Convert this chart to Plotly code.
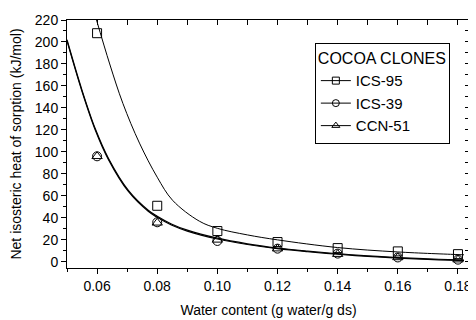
import plotly.graph_objects as go

# measured points
x_data = [0.06, 0.08, 0.10, 0.12, 0.14, 0.16, 0.18]
ics95 = [208, 51, 28, 18, 12.5, 9.5, 7]
ics39 = [96, 36, 19, 12, 7.5, 4, 2]
ccn51 = [96, 35.5, 20, 12, 7, 4, 2]

# fitted curves
fit95_x = [0.0596, 0.0642, 0.0686, 0.0741, 0.080, 0.0851, 0.094, 0.100, 0.110, 0.120, 0.140, 0.160, 0.180, 0.182]
fit95_y = [222, 180, 144, 108, 77, 56, 37, 30.5, 24.5, 20, 13, 9, 6.6, 6.4]
fit39_x = [0.050, 0.055, 0.0594, 0.0638, 0.0704, 0.077, 0.080, 0.0847, 0.090, 0.100, 0.110, 0.120, 0.130, 0.140, 0.150, 0.160, 0.170, 0.180, 0.182]
fit39_y = [201, 155, 120, 93, 64, 46, 40.5, 33.5, 28, 20.8, 15.8, 12, 9.2, 6.9, 5, 3.4, 2.2, 1.3, 1.1]
fit51_y = [202, 156, 121, 94, 65, 47, 41.5, 34.5, 28.8, 21.5, 16.4, 12.6, 9.8, 7.4, 5.5, 3.9, 2.7, 1.8, 1.6]

names = ["ICS-95", "ICS-39", "CCN-51"]
symbols = ["square-open", "circle-open", "triangle-up-open"]

FONT = "Arial, Liberation Sans, sans-serif"

fig = go.Figure()

# fitted curves
fig.add_trace(go.Scatter(x=fit95_x, y=fit95_y, mode="lines", line=dict(color="black", width=1, shape="spline"),
                         showlegend=False, hoverinfo="skip"))
fig.add_trace(go.Scatter(x=fit39_x, y=fit39_y, mode="lines", line=dict(color="black", width=1.2, shape="spline"),
                         showlegend=False, hoverinfo="skip"))
fig.add_trace(go.Scatter(x=fit39_x, y=fit51_y, mode="lines", line=dict(color="black", width=1.2, shape="spline"),
                         showlegend=False, hoverinfo="skip"))

# data markers
for ys, sym in zip([ics95, ics39, ccn51], symbols):
    fig.add_trace(go.Scatter(x=x_data, y=ys, mode="markers",
                             marker=dict(symbol=sym, size=9, color="black", line=dict(width=1, color="black")),
                             showlegend=False))

# legend entries
for nm, sym in zip(names, symbols):
    fig.add_trace(go.Scatter(x=[None], y=[None], mode="lines+markers", name=nm,
                             line=dict(color="black", width=1),
                             marker=dict(symbol=sym, size=7, color="black", line=dict(width=1, color="black"))))

# invisible trace for mirrored axes
fig.add_trace(go.Scatter(x=[0.1], y=[100], xaxis="x2", yaxis="y2", mode="markers",
                         marker=dict(opacity=0), showlegend=False, hoverinfo="skip"))

fig.update_layout(
    width=468, height=312,
    margin=dict(l=59, r=4, t=12, b=47),
    paper_bgcolor="white", plot_bgcolor="white",
    font=dict(family=FONT, size=14, color="black"),
    xaxis=dict(range=[0.05, 0.184], tick0=0.06, dtick=0.02, tickformat=".2f",
               ticks="outside", ticklen=5, tickcolor="black", showline=True, linecolor="black", linewidth=1,
               showgrid=False, zeroline=False,
               minor=dict(dtick=0.01, tick0=0.05, ticks="outside", ticklen=3, tickcolor="black"),
               title=dict(text="Water content (g water/g ds)", font=dict(size=14), standoff=12)),
    yaxis=dict(range=[-5.6, 220], tick0=0, dtick=20,
               ticks="outside", ticklen=5, tickcolor="black", showline=True, linecolor="black", linewidth=1,
               showgrid=False, zeroline=False,
               minor=dict(dtick=10, ticks="outside", ticklen=3, tickcolor="black"),
               title=dict(text="Net isosteric heat of sorption (kJ/mol)", font=dict(size=14), standoff=9)),
    xaxis2=dict(overlaying="x", side="top", matches="x", ticks="inside", dtick=0.01, tick0=0.05, ticklen=5,
                tickcolor="black", showticklabels=False, showline=True, linecolor="black", linewidth=1,
                showgrid=False, zeroline=False),
    yaxis2=dict(overlaying="y", side="right", matches="y", ticks="inside", dtick=10, tick0=0, ticklen=5,
                tickcolor="black", showticklabels=False, showline=True, linecolor="black", linewidth=1,
                showgrid=False, zeroline=False),
    legend=dict(x=0.615, y=0.909, xanchor="left", yanchor="top",
                bgcolor="white", bordercolor="black", borderwidth=1,
                font=dict(family=FONT, size=15),
                title=dict(text="COCOA CLONES", font=dict(family=FONT, size=16), side="top"),
                itemwidth=30, tracegroupgap=0, entrywidth=125, entrywidthmode="pixels"),
)

fig.write_html("out.html")
